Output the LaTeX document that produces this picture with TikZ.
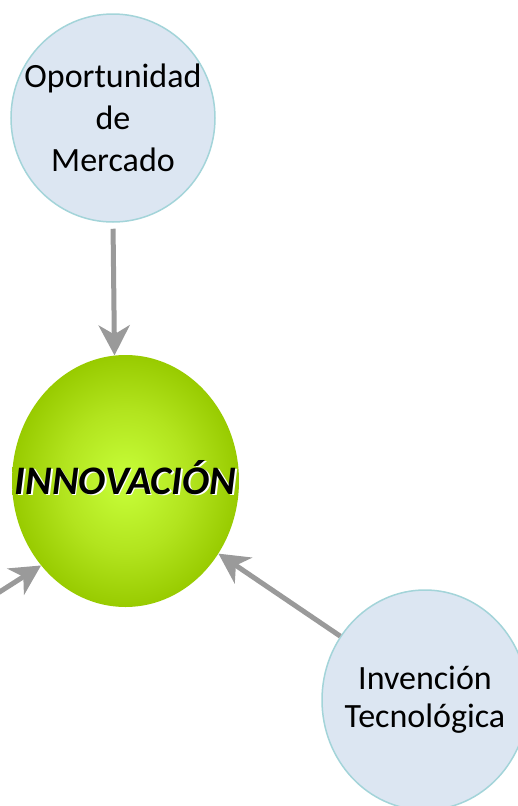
\documentclass[tikz,border=0pt]{standalone}
\usepackage{fontspec}
\setmainfont{Carlito}
\usetikzlibrary{shapes.geometric,arrows.meta}
\definecolor{skyfill}{HTML}{DCE6F2}
\definecolor{skyline}{HTML}{A3D4D9}
\definecolor{limein}{HTML}{C8FF3A}
\definecolor{limemid}{HTML}{B2E41E}
\definecolor{limeout}{HTML}{98CB00}
\definecolor{arrowgray}{HTML}{9A9A9A}
\pgfdeclareradialshading{limeglow}{\pgfpoint{0bp}{0bp}}{color(0bp)=(limein); color(14bp)=(limemid); color(25bp)=(limeout); color(50bp)=(limeout)}
\newcommand{\whiteshadow}[1]{\makebox[0pt][l]{\hspace{1.6pt}\raisebox{-1.6pt}{\color{white}#1}}#1}
\begin{document}
\begin{tikzpicture}[x=1pt, y=-1pt,
idea node/.style={ellipse,draw=skyline,line width=1.5pt,fill=skyfill,align=center,inner xsep=-20pt,inner ysep=0pt,font=\fontsize{34pt}{42pt}\selectfont},
core node/.style={ellipse,inner xsep=-35pt,inner ysep=0pt,shading=limeglow,text height=26pt,text depth=0pt,font=\fontsize{40.5pt}{45pt}\selectfont\bfseries\itshape},
flow/.style={draw=arrowgray,line width=5pt,-{Stealth[length=30pt,width=31pt,inset=9pt]}}]
\useasboundingbox (0,0) rectangle (518,806);
\begin{scope}
\node[idea node, minimum width=204pt, minimum height=208pt] (opp) at (113,118) {Oportunidad\\de\\Mercado};
\node[core node, minimum width=227pt, minimum height=252pt] (inno) at (125.5,481) {\whiteshadow{INNOVACIÓN}};
\node[idea node, minimum width=206pt, minimum height=220pt, font=\fontsize{34pt}{38pt}\selectfont] (inv) at (425,700) {Invención\\Tecnológica};
\coordinate (left) at (-60,630);
\end{scope}
\begin{scope}
\draw[flow, shorten <=6pt] (opp.south) -- (inno.95);
\draw[flow] (inv.143) -- (inno.322);
\draw[flow] (left) -- (inno.225);
\end{scope}
\end{tikzpicture}
\end{document}
